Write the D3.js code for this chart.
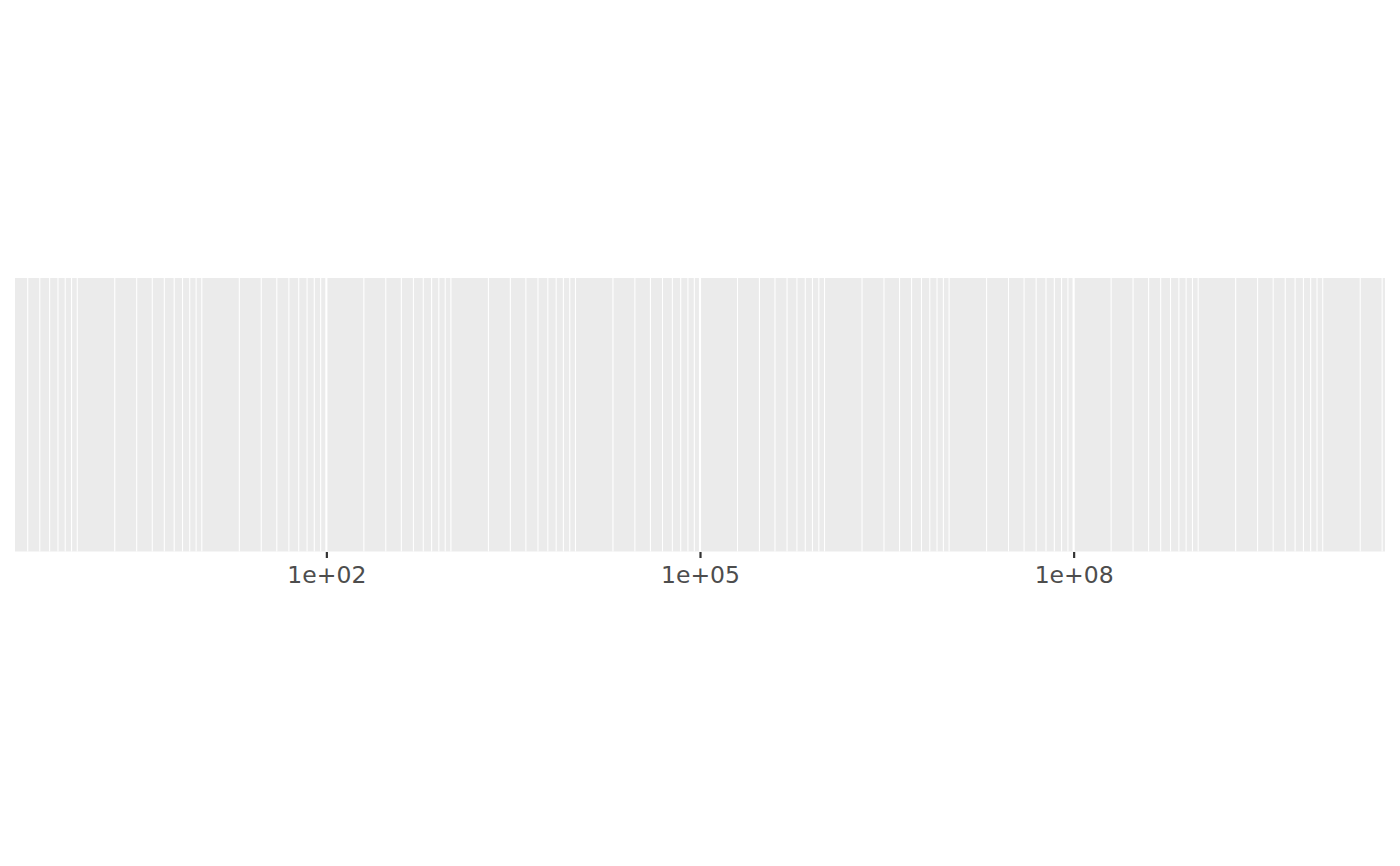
<!DOCTYPE html>
<html>
<head>
<meta charset="utf-8">
<script src="https://cdn.jsdelivr.net/npm/d3@7"></script>
<style>
  html, body { margin: 0; padding: 0; background: #ffffff; }
  svg { display: block; }
</style>
</head>
<body>
<svg id="chart" width="1400" height="866"></svg>
<script>
// ---- data ----
const dataRange = [1, 1e10];
const majorBreaks = [1e2, 1e5, 1e8];
const tickLabels = ["1e+02", "1e+05", "1e+08"];
const minorMultipliers = [1, 2, 3, 4, 5, 6, 7, 8, 9];
const minorDecades = [-1, 0, 1, 2, 3, 4, 5, 6, 7, 8, 9, 10];

// ---- layout ----
const W = 1400, H = 866;
const panel = { left: 15, right: 1385, top: 278, bottom: 551.5 };

const svg = d3.select("#chart");

// 5% expansion on the log scale
const lmin = Math.log10(dataRange[0]), lmax = Math.log10(dataRange[1]);
const pad = (lmax - lmin) * 0.05;
const x = d3.scaleLog()
  .domain([Math.pow(10, lmin - pad), Math.pow(10, lmax + pad)])
  .range([panel.left, panel.right]);

// panel background
svg.append("rect")
  .attr("x", panel.left).attr("y", panel.top)
  .attr("width", panel.right - panel.left)
  .attr("height", panel.bottom - panel.top)
  .attr("fill", "#EBEBEB");

// minor gridlines
const minorBreaks = [];
minorDecades.forEach(k => minorMultipliers.forEach(m => {
  const v = m * Math.pow(10, k);
  if (v >= x.domain()[0] && v <= x.domain()[1]) minorBreaks.push(v);
}));
svg.append("g").selectAll("line")
  .data(minorBreaks.filter(v => !majorBreaks.includes(v)))
  .join("line")
  .attr("x1", d => x(d)).attr("x2", d => x(d))
  .attr("y1", panel.top).attr("y2", panel.bottom)
  .attr("stroke", "#ffffff").attr("stroke-width", 1.07);

// major gridlines
svg.append("g").selectAll("line")
  .data(majorBreaks)
  .join("line")
  .attr("x1", d => x(d)).attr("x2", d => x(d))
  .attr("y1", panel.top).attr("y2", panel.bottom)
  .attr("stroke", "#ffffff").attr("stroke-width", 2.13);

// x axis
const fontSize = 23.5;
const tickLen = 6.5;
const axis = d3.axisBottom(x)
  .tickValues(majorBreaks)
  .tickFormat((d, i) => tickLabels[i])
  .tickSizeInner(tickLen)
  .tickSizeOuter(0)
  .tickPadding(31 - tickLen - fontSize * 0.71);

const gx = svg.append("g")
  .attr("transform", `translate(0,${panel.bottom})`)
  .call(axis);
gx.select(".domain").remove();
gx.selectAll(".tick line")
  .attr("stroke", "#333333")
  .attr("stroke-width", 2.2)
  .attr("y1", 0.5);
gx.selectAll(".tick text")
  .attr("fill", "#4D4D4D")
  .attr("font-family", "'DejaVu Sans', sans-serif")
  .attr("font-size", fontSize + "px")
  .attr("dy", "0.71em");
</script>
</body>
</html>
